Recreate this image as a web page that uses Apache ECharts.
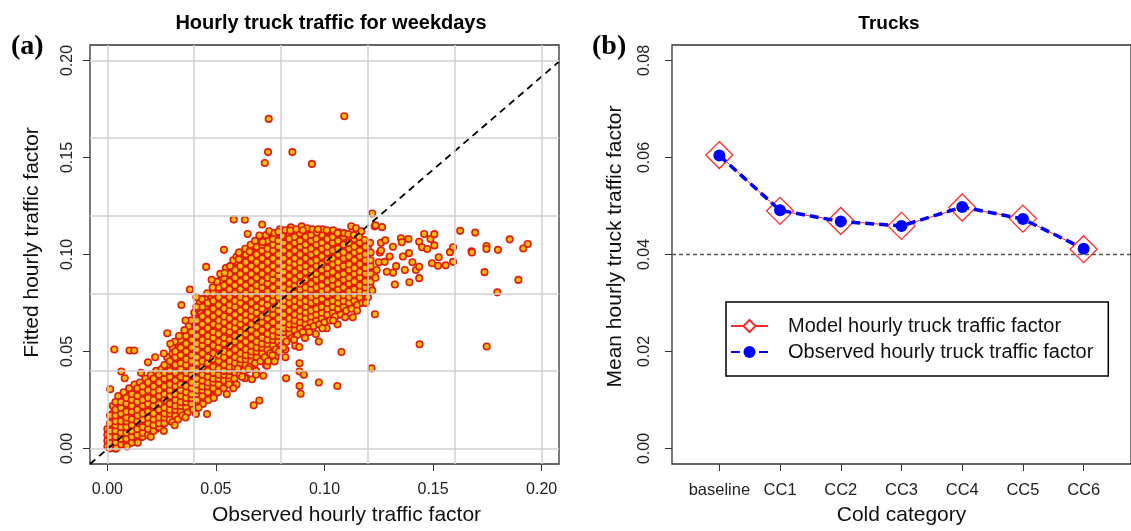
<!DOCTYPE html>
<html>
<head>
<meta charset="utf-8">
<title>Hourly truck traffic</title>
<script src="https://cdn.jsdelivr.net/npm/echarts@6/dist/echarts.min.js"></script>
<style>
  html, body { margin: 0; padding: 0; background: #fff; }
  #chart { width: 1131px; height: 531px; }
</style>
</head>
<body>
<div id="chart"></div>
<script>
// ---- panel (a): observed vs fitted hourly truck traffic factor ----
const xTicks = [0, 0.05, 0.1, 0.15, 0.2];
const yTicks = [0, 0.05, 0.1, 0.15, 0.2];
const gridVals = [0, 0.04, 0.08, 0.12, 0.16, 0.2];
const fitLine = [[-0.008, -0.008], [0.208, 0.1994]];

// dense part of the cloud, read column by column: [observed, [fitted...]]
const coreLow = [
  [0.000, [0.001, 0.004, 0.007, 0.010]],
  [0.0025, [0.002, 0.005, 0.008, 0.011, 0.015, 0.018, 0.022]],
  [0.005, [0.001, 0.004, 0.007, 0.010, 0.013, 0.016, 0.020, 0.023, 0.027]],
  [0.0075, [0.003, 0.006, 0.009, 0.012, 0.015, 0.018, 0.021, 0.025, 0.029]],
  [0.010, [0.004, 0.007, 0.010, 0.013, 0.017, 0.020, 0.023, 0.027, 0.031]],
  [0.0125, [0.005, 0.008, 0.012, 0.015, 0.018, 0.022, 0.025, 0.029, 0.033]],
  [0.015, [0.006, 0.009, 0.013, 0.016, 0.020, 0.023, 0.027, 0.030, 0.034]],
  [0.0175, [0.008, 0.011, 0.014, 0.018, 0.021, 0.025, 0.028, 0.032, 0.036]],
  [0.020, [0.009, 0.013, 0.016, 0.020, 0.023, 0.027, 0.030, 0.034, 0.038]],
  [0.0225, [0.010, 0.014, 0.018, 0.021, 0.025, 0.028, 0.032, 0.036, 0.040]],
  [0.025, [0.012, 0.015, 0.019, 0.023, 0.026, 0.030, 0.034, 0.037, 0.041]],
  [0.0275, [0.014, 0.017, 0.021, 0.024, 0.028, 0.032, 0.035, 0.039, 0.043, 0.047]],
  [0.030, [0.016, 0.019, 0.023, 0.026, 0.030, 0.034, 0.037, 0.041, 0.045, 0.049, 0.052]],
  [0.0325, [0.018, 0.021, 0.025, 0.029, 0.032, 0.036, 0.040, 0.043, 0.047, 0.051, 0.055]],
  [0.035, [0.020, 0.023, 0.027, 0.031, 0.034, 0.038, 0.042, 0.045, 0.049, 0.053, 0.057]],
  [0.0375, [0.022, 0.025, 0.029, 0.033, 0.036, 0.040, 0.044, 0.047, 0.051, 0.055, 0.059, 0.063]]
];
const coreMid = [
  [0.040, [0.024, 0.027, 0.031, 0.035, 0.038, 0.042, 0.046, 0.049, 0.053, 0.057, 0.061, 0.065, 0.070]],
  [0.0425, [0.026, 0.029, 0.033, 0.037, 0.040, 0.044, 0.048, 0.052, 0.055, 0.059, 0.063, 0.067, 0.071, 0.075]],
  [0.045, [0.028, 0.031, 0.035, 0.039, 0.042, 0.046, 0.050, 0.054, 0.057, 0.061, 0.065, 0.069, 0.073, 0.077]],
  [0.0475, [0.030, 0.033, 0.037, 0.041, 0.044, 0.048, 0.052, 0.056, 0.059, 0.063, 0.067, 0.071, 0.075, 0.079]],
  [0.050, [0.032, 0.036, 0.039, 0.043, 0.047, 0.050, 0.054, 0.058, 0.062, 0.065, 0.069, 0.073, 0.077, 0.081]],
  [0.0525, [0.034, 0.038, 0.041, 0.045, 0.049, 0.052, 0.056, 0.060, 0.064, 0.067, 0.071, 0.075, 0.079, 0.083, 0.087]],
  [0.055, [0.036, 0.040, 0.043, 0.047, 0.051, 0.055, 0.058, 0.062, 0.066, 0.070, 0.073, 0.077, 0.081, 0.085, 0.089]],
  [0.0575, [0.038, 0.042, 0.045, 0.049, 0.053, 0.057, 0.060, 0.064, 0.068, 0.072, 0.075, 0.079, 0.083, 0.087, 0.091, 0.094]],
  [0.060, [0.040, 0.044, 0.047, 0.051, 0.055, 0.059, 0.062, 0.066, 0.070, 0.074, 0.077, 0.081, 0.085, 0.089, 0.093, 0.096]],
  [0.0625, [0.042, 0.046, 0.049, 0.053, 0.057, 0.061, 0.064, 0.068, 0.072, 0.076, 0.079, 0.083, 0.087, 0.091, 0.095, 0.099]],
  [0.065, [0.044, 0.048, 0.051, 0.055, 0.059, 0.063, 0.066, 0.070, 0.074, 0.078, 0.081, 0.085, 0.089, 0.093, 0.097, 0.101]],
  [0.0675, [0.046, 0.050, 0.053, 0.057, 0.061, 0.065, 0.068, 0.072, 0.076, 0.080, 0.083, 0.087, 0.091, 0.095, 0.099, 0.103]],
  [0.070, [0.048, 0.052, 0.055, 0.059, 0.063, 0.067, 0.070, 0.074, 0.078, 0.082, 0.085, 0.089, 0.093, 0.097, 0.101, 0.105]],
  [0.0725, [0.050, 0.054, 0.057, 0.061, 0.065, 0.069, 0.072, 0.076, 0.080, 0.084, 0.087, 0.091, 0.095, 0.099, 0.103, 0.106]],
  [0.075, [0.052, 0.056, 0.059, 0.063, 0.067, 0.071, 0.074, 0.078, 0.082, 0.086, 0.089, 0.093, 0.097, 0.101, 0.104, 0.108]],
  [0.0775, [0.054, 0.058, 0.061, 0.065, 0.069, 0.073, 0.076, 0.080, 0.084, 0.088, 0.091, 0.095, 0.099, 0.103, 0.107]]
];
const coreHigh = [
  [0.080, [0.056, 0.060, 0.063, 0.067, 0.071, 0.075, 0.078, 0.082, 0.086, 0.090, 0.093, 0.097, 0.101, 0.105, 0.109]],
  [0.0825, [0.058, 0.062, 0.065, 0.069, 0.073, 0.077, 0.080, 0.084, 0.088, 0.092, 0.095, 0.099, 0.103, 0.107, 0.110]],
  [0.085, [0.060, 0.063, 0.067, 0.071, 0.075, 0.078, 0.082, 0.086, 0.090, 0.093, 0.097, 0.101, 0.105, 0.109]],
  [0.0875, [0.062, 0.065, 0.069, 0.073, 0.077, 0.080, 0.084, 0.088, 0.092, 0.095, 0.099, 0.103, 0.107, 0.110]],
  [0.090, [0.063, 0.067, 0.071, 0.074, 0.078, 0.082, 0.086, 0.089, 0.093, 0.097, 0.101, 0.104, 0.108]],
  [0.0925, [0.065, 0.069, 0.072, 0.076, 0.080, 0.084, 0.087, 0.091, 0.095, 0.099, 0.102, 0.106, 0.110]],
  [0.095, [0.066, 0.070, 0.074, 0.077, 0.081, 0.085, 0.089, 0.092, 0.096, 0.100, 0.104, 0.107]],
  [0.0975, [0.067, 0.071, 0.075, 0.079, 0.083, 0.086, 0.090, 0.094, 0.098, 0.101, 0.105, 0.109]],
  [0.100, [0.068, 0.072, 0.076, 0.080, 0.084, 0.087, 0.091, 0.095, 0.099, 0.102, 0.106, 0.110]],
  [0.1025, [0.070, 0.074, 0.078, 0.081, 0.085, 0.089, 0.093, 0.096, 0.100, 0.104, 0.108]],
  [0.105, [0.071, 0.075, 0.079, 0.083, 0.086, 0.090, 0.094, 0.098, 0.101, 0.105, 0.109]],
  [0.1075, [0.073, 0.077, 0.080, 0.084, 0.088, 0.092, 0.095, 0.099, 0.103, 0.107]],
  [0.110, [0.074, 0.078, 0.082, 0.086, 0.089, 0.093, 0.097, 0.101, 0.104, 0.108]],
  [0.1125, [0.076, 0.080, 0.083, 0.087, 0.091, 0.095, 0.098, 0.102, 0.106]],
  [0.115, [0.077, 0.081, 0.085, 0.089, 0.092, 0.096, 0.100, 0.103, 0.107]],
  [0.1175, [0.079, 0.083, 0.087, 0.090, 0.094, 0.098, 0.101, 0.105]],
  [0.120, [0.081, 0.085, 0.088, 0.092, 0.096, 0.099, 0.103]]
];

// second pass over the cloud, between the columns above
const coreFillLow = [
  [0.00125, [0.000, 0.003, 0.006, 0.009, 0.013, 0.017]],
  [0.00375, [0.000, 0.003, 0.006, 0.009, 0.012, 0.014, 0.017, 0.020, 0.024]],
  [0.00625, [0.002, 0.005, 0.008, 0.011, 0.014, 0.018, 0.021, 0.024]],
  [0.00875, [0.002, 0.005, 0.008, 0.011, 0.014, 0.016, 0.019, 0.023, 0.026]],
  [0.01125, [0.003, 0.006, 0.009, 0.012, 0.015, 0.019, 0.022, 0.025, 0.028]],
  [0.01375, [0.004, 0.007, 0.010, 0.014, 0.017, 0.020, 0.024, 0.027, 0.031]],
  [0.01625, [0.006, 0.008, 0.011, 0.015, 0.018, 0.022, 0.025, 0.029, 0.032]],
  [0.01875, [0.007, 0.010, 0.013, 0.016, 0.019, 0.023, 0.026, 0.030, 0.034]],
  [0.02125, [0.009, 0.012, 0.015, 0.018, 0.022, 0.025, 0.029, 0.032, 0.036]],
  [0.02375, [0.011, 0.013, 0.016, 0.020, 0.023, 0.027, 0.030, 0.034, 0.038]],
  [0.02625, [0.013, 0.016, 0.018, 0.021, 0.025, 0.028, 0.032, 0.036, 0.039, 0.043]],
  [0.02875, [0.015, 0.018, 0.020, 0.023, 0.027, 0.030, 0.033, 0.037, 0.040, 0.045]],
  [0.03125, [0.017, 0.020, 0.022, 0.025, 0.028, 0.032, 0.035, 0.039, 0.043, 0.047, 0.050]],
  [0.03375, [0.019, 0.022, 0.024, 0.027, 0.030, 0.033, 0.037, 0.041, 0.044, 0.048, 0.052, 0.056]],
  [0.03625, [0.021, 0.024, 0.026, 0.029, 0.032, 0.036, 0.039, 0.043, 0.046, 0.050, 0.054, 0.058]],
  [0.03875, [0.023, 0.026, 0.028, 0.031, 0.034, 0.038, 0.041, 0.045, 0.048, 0.052, 0.056, 0.060, 0.066]]
];
const coreFillMid = [
  [0.04125, [0.025, 0.028, 0.030, 0.033, 0.036, 0.040, 0.044, 0.047, 0.051, 0.054, 0.058, 0.062, 0.066, 0.072]],
  [0.04375, [0.027, 0.030, 0.032, 0.035, 0.038, 0.042, 0.045, 0.049, 0.053, 0.056, 0.060, 0.064, 0.068, 0.073]],
  [0.04625, [0.029, 0.032, 0.034, 0.037, 0.040, 0.044, 0.047, 0.051, 0.055, 0.058, 0.062, 0.066, 0.070, 0.075]],
  [0.04875, [0.031, 0.034, 0.036, 0.039, 0.042, 0.046, 0.049, 0.053, 0.057, 0.060, 0.064, 0.068, 0.072, 0.076, 0.080]],
  [0.05125, [0.033, 0.036, 0.038, 0.041, 0.045, 0.048, 0.052, 0.055, 0.059, 0.063, 0.066, 0.070, 0.074, 0.078, 0.083]],
  [0.05375, [0.035, 0.038, 0.040, 0.043, 0.047, 0.050, 0.054, 0.057, 0.061, 0.065, 0.068, 0.072, 0.076, 0.080, 0.084, 0.088]],
  [0.05625, [0.037, 0.040, 0.042, 0.045, 0.049, 0.053, 0.056, 0.060, 0.063, 0.067, 0.071, 0.074, 0.078, 0.082, 0.086, 0.090]],
  [0.05875, [0.039, 0.042, 0.044, 0.047, 0.051, 0.055, 0.058, 0.062, 0.065, 0.069, 0.073, 0.076, 0.080, 0.084, 0.088, 0.092]],
  [0.06125, [0.041, 0.044, 0.046, 0.049, 0.053, 0.057, 0.060, 0.064, 0.067, 0.071, 0.075, 0.078, 0.082, 0.086, 0.090, 0.094, 0.098]],
  [0.06375, [0.043, 0.046, 0.048, 0.051, 0.055, 0.059, 0.062, 0.066, 0.069, 0.073, 0.077, 0.080, 0.084, 0.088, 0.092, 0.096, 0.100]],
  [0.06625, [0.045, 0.048, 0.050, 0.053, 0.057, 0.061, 0.064, 0.068, 0.071, 0.075, 0.079, 0.082, 0.086, 0.090, 0.094, 0.098, 0.102]],
  [0.06875, [0.047, 0.050, 0.052, 0.055, 0.059, 0.063, 0.066, 0.070, 0.073, 0.077, 0.081, 0.084, 0.088, 0.092, 0.096, 0.100, 0.104]],
  [0.07125, [0.049, 0.052, 0.054, 0.057, 0.061, 0.065, 0.068, 0.072, 0.075, 0.079, 0.083, 0.086, 0.090, 0.094, 0.098, 0.102, 0.105]],
  [0.07375, [0.051, 0.054, 0.056, 0.059, 0.063, 0.067, 0.070, 0.074, 0.077, 0.081, 0.085, 0.088, 0.092, 0.096, 0.100, 0.103, 0.107]],
  [0.07625, [0.053, 0.056, 0.058, 0.061, 0.065, 0.069, 0.072, 0.076, 0.079, 0.083, 0.087, 0.090, 0.094, 0.098, 0.102, 0.105, 0.108]],
  [0.07875, [0.055, 0.058, 0.060, 0.063, 0.067, 0.071, 0.074, 0.078, 0.081, 0.085, 0.089, 0.092, 0.096, 0.100, 0.104, 0.107]]
];
const coreFillHigh = [
  [0.08125, [0.057, 0.060, 0.062, 0.065, 0.069, 0.073, 0.076, 0.080, 0.083, 0.087, 0.091, 0.094, 0.098, 0.102, 0.106, 0.109]],
  [0.08375, [0.059, 0.062, 0.064, 0.067, 0.071, 0.075, 0.078, 0.082, 0.085, 0.089, 0.093, 0.096, 0.100, 0.104, 0.108]],
  [0.08625, [0.061, 0.064, 0.066, 0.069, 0.073, 0.076, 0.080, 0.084, 0.087, 0.091, 0.095, 0.098, 0.102, 0.106, 0.109]],
  [0.08875, [0.062, 0.065, 0.068, 0.071, 0.075, 0.078, 0.082, 0.085, 0.089, 0.093, 0.096, 0.100, 0.104, 0.107, 0.111]],
  [0.09125, [0.064, 0.067, 0.070, 0.073, 0.076, 0.080, 0.083, 0.087, 0.091, 0.094, 0.098, 0.102, 0.105, 0.109]],
  [0.09375, [0.065, 0.068, 0.071, 0.075, 0.078, 0.082, 0.085, 0.089, 0.092, 0.096, 0.100, 0.103, 0.107, 0.110]],
  [0.09625, [0.066, 0.069, 0.072, 0.076, 0.079, 0.083, 0.087, 0.090, 0.094, 0.097, 0.101, 0.105, 0.108]],
  [0.09875, [0.067, 0.070, 0.073, 0.077, 0.081, 0.084, 0.088, 0.092, 0.095, 0.099, 0.103, 0.106, 0.110]],
  [0.10125, [0.069, 0.072, 0.075, 0.079, 0.082, 0.086, 0.090, 0.093, 0.097, 0.101, 0.104, 0.108]],
  [0.10375, [0.070, 0.073, 0.076, 0.080, 0.084, 0.087, 0.091, 0.095, 0.098, 0.102, 0.106, 0.109]],
  [0.10625, [0.072, 0.075, 0.078, 0.082, 0.085, 0.089, 0.093, 0.096, 0.100, 0.103, 0.107]],
  [0.10875, [0.073, 0.076, 0.079, 0.083, 0.087, 0.090, 0.094, 0.098, 0.101, 0.105, 0.109]],
  [0.11125, [0.075, 0.078, 0.081, 0.085, 0.088, 0.092, 0.095, 0.099, 0.103, 0.106]],
  [0.11375, [0.076, 0.079, 0.082, 0.086, 0.090, 0.093, 0.097, 0.101, 0.104, 0.108]],
  [0.11625, [0.078, 0.081, 0.084, 0.088, 0.091, 0.095, 0.099, 0.102, 0.106]],
  [0.11875, [0.080, 0.083, 0.086, 0.090, 0.093, 0.097, 0.100, 0.104]],
  [0.12125, [0.083, 0.086, 0.090, 0.094, 0.097, 0.101]]
];

// ragged upper and lower rims of the band
const upperRim = [
  [0.031, 0.055], [0.033, 0.058], [0.0355, 0.061], [0.0385, 0.066], [0.041, 0.073],
  [0.0435, 0.077], [0.046, 0.080], [0.0485, 0.083], [0.0505, 0.086], [0.052, 0.090],
  [0.0545, 0.093], [0.0565, 0.094], [0.058, 0.097], [0.0595, 0.099], [0.061, 0.101],
  [0.0635, 0.103], [0.066, 0.105], [0.068, 0.107], [0.0705, 0.109], [0.073, 0.110],
  [0.0745, 0.112], [0.077, 0.111], [0.0795, 0.113], [0.082, 0.1125], [0.0845, 0.114],
  [0.087, 0.113], [0.0895, 0.1145], [0.092, 0.1135], [0.0945, 0.113], [0.0965, 0.1115],
  [0.099, 0.113], [0.1015, 0.112], [0.104, 0.1125], [0.1065, 0.1115], [0.109, 0.111],
  [0.111, 0.1105], [0.1135, 0.110], [0.116, 0.109], [0.1185, 0.1075], [0.121, 0.106],
  [0.054, 0.0905], [0.0605, 0.0975], [0.0655, 0.1015], [0.0715, 0.1065], [0.0805, 0.1095]
];
const lowerRim = [
  [0.030, 0.0135], [0.0325, 0.015], [0.0345, 0.017], [0.037, 0.0185], [0.0395, 0.020],
  [0.0415, 0.0215], [0.044, 0.023], [0.0465, 0.025], [0.049, 0.027], [0.051, 0.029],
  [0.0535, 0.031], [0.056, 0.0345], [0.0585, 0.036], [0.061, 0.038], [0.063, 0.040],
  [0.0655, 0.042], [0.068, 0.044], [0.0705, 0.045], [0.0725, 0.047], [0.075, 0.049],
  [0.0775, 0.051], [0.080, 0.053], [0.0825, 0.055], [0.085, 0.057], [0.0875, 0.0585],
  [0.090, 0.060], [0.0925, 0.062], [0.095, 0.063], [0.0975, 0.064], [0.100, 0.065],
  [0.1025, 0.066], [0.105, 0.068], [0.1075, 0.069], [0.110, 0.071], [0.1125, 0.072],
  [0.115, 0.074], [0.1175, 0.075], [0.120, 0.078],
  [0.0595, 0.033], [0.064, 0.0365], [0.0685, 0.040], [0.073, 0.043], [0.0775, 0.047],
  [0.082, 0.051], [0.0865, 0.053], [0.091, 0.057], [0.096, 0.059], [0.101, 0.062], [0.106, 0.064]
];

// loose points around the edges of the cloud
const edgePoints = [
  [0.0032, 0.051], [0.0102, 0.0505], [0.0124, 0.0505], [0.0013, 0.0305], [0.0064, 0.0397],
  [0.008, 0.0362], [0.0187, 0.0444], [0.0155, 0.039], [0.022, 0.047], [0.026, 0.049],
  [0.0276, 0.0594], [0.029, 0.054], [0.0341, 0.074], [0.038, 0.0819], [0.036, 0.066],
  [0.041, 0.078], [0.0455, 0.0936], [0.048, 0.087], [0.0537, 0.1024], [0.0606, 0.101],
  [0.0582, 0.1181], [0.0633, 0.1179], [0.0646, 0.1106], [0.0713, 0.1155], [0.070, 0.1098],
  [0.0788, 0.1117], [0.0842, 0.1124], [0.090, 0.1125], [0.097, 0.113], [0.101, 0.1125],
  [0.106, 0.111], [0.1123, 0.1146], [0.1145, 0.1135], [0.117, 0.112], [0.122, 0.1211],
  [0.1231, 0.1145], [0.1265, 0.1141], [0.1235, 0.115],
  [0.004, 0.000], [0.009, 0.001], [0.014, 0.003], [0.020, 0.006], [0.026, 0.009],
  [0.031, 0.012], [0.036, 0.016], [0.0408, 0.0178], [0.0459, 0.0178], [0.042, 0.021],
  [0.049, 0.026], [0.0601, 0.0411], [0.0633, 0.0362], [0.0666, 0.0357], [0.0685, 0.038],
  [0.0718, 0.0375], [0.0735, 0.0427], [0.077, 0.0449], [0.0674, 0.0223], [0.070, 0.0247],
  [0.0823, 0.0362], [0.0884, 0.0523], [0.0885, 0.0439], [0.0885, 0.0397], [0.0905, 0.038],
  [0.0885, 0.0322], [0.089, 0.0282], [0.0974, 0.0551], [0.0974, 0.034], [0.1059, 0.0322],
  [0.1078, 0.0497], [0.1095, 0.0676], [0.113, 0.0676], [0.1217, 0.0413], [0.1232, 0.0692],
  [0.122, 0.0814], [0.056, 0.033], [0.062, 0.037], [0.076, 0.048], [0.081, 0.052],
  [0.086, 0.056], [0.093, 0.060], [0.099, 0.062], [0.104, 0.066], [0.115, 0.071],
  [0.119, 0.075], [0.055, 0.028], [0.058, 0.031], [0.065, 0.041], [0.074, 0.045],
  [0.079, 0.050], [0.082, 0.047]
];

// sparse tail to the right of the cloud
const tailPoints = [
  [0.1235, 0.088], [0.124, 0.092], [0.125, 0.096], [0.1255, 0.101], [0.126, 0.106],
  [0.1277, 0.0962], [0.126, 0.1021], [0.128, 0.1073], [0.1287, 0.0911], [0.1316, 0.0906],
  [0.1324, 0.0845], [0.130, 0.099], [0.1315, 0.104], [0.133, 0.094], [0.1352, 0.1084],
  [0.1356, 0.1063], [0.1361, 0.099], [0.1389, 0.1007], [0.1387, 0.108], [0.1391, 0.0857],
  [0.137, 0.092], [0.1405, 0.096], [0.1421, 0.092], [0.1436, 0.0878], [0.1436, 0.0937],
  [0.1436, 0.1066], [0.1449, 0.1037], [0.1459, 0.1106], [0.1473, 0.1028], [0.1488, 0.108],
  [0.1495, 0.0955], [0.1506, 0.1105], [0.1506, 0.1047], [0.1523, 0.0942], [0.1526, 0.0986],
  [0.1558, 0.0944], [0.1578, 0.1012], [0.1592, 0.1037], [0.1592, 0.0962], [0.1625, 0.1122],
  [0.1677, 0.1017], [0.1679, 0.101], [0.1694, 0.1113], [0.1737, 0.0909], [0.1746, 0.1044],
  [0.1746, 0.1028], [0.1799, 0.1024], [0.1853, 0.1078], [0.1893, 0.0869], [0.1915, 0.1031],
  [0.1936, 0.1054], [0.1796, 0.0805], [0.1747, 0.0526], [0.1438, 0.0537]
];

const highOutliers = [
  [0.0743, 0.1699], [0.1091, 0.1713], [0.074, 0.1528], [0.0852, 0.1528], [0.0725, 0.1472], [0.0942, 0.1467]
];

// ---- panel (b): mean hourly truck traffic factor by cold category ----
const categories = ['baseline', 'CC1', 'CC2', 'CC3', 'CC4', 'CC5', 'CC6'];
const modelVals = [0.0605, 0.0490, 0.0469, 0.0459, 0.0497, 0.0474, 0.0411];
const observedVals = [0.0604, 0.0491, 0.0468, 0.0459, 0.0498, 0.0473, 0.0412];
const refLevel = 0.04;
const rightYTicks = [0, 0.02, 0.04, 0.06, 0.08];
const catPositions = [1, 2, 3, 4, 5, 6, 7];

const FONT = '"Liberation Sans", Arial, sans-serif';

const scatterData = []
  .concat(coreLow, coreMid, coreHigh, coreFillLow, coreFillMid, coreFillHigh)
  .flatMap(([x, ys]) => ys.map((y) => [x, y]))
  .concat(upperRim, lowerRim, edgePoints, tailPoints, highOutliers);

const chart = echarts.init(document.getElementById('chart'), null, { renderer: 'canvas' });

const axisBase = {
  axisLine: { show: false, onZero: false },
  splitLine: { show: false },
  axisTick: { show: true, inside: false, length: 7, lineStyle: { color: '#333', width: 1 } },
  nameLocation: 'middle',
  nameTextStyle: { fontFamily: FONT, fontSize: 21, color: '#111' }
};

const option = {
  animation: false,
  backgroundColor: '#fff',
  textStyle: { fontFamily: FONT },
  title: [
    { text: 'Hourly truck traffic for weekdays', left: 326, top: 8, textAlign: 'center',
      textStyle: { fontFamily: FONT, fontSize: 20, fontWeight: 'bold', color: '#000' } },
    { text: 'Trucks', left: 884, top: 9, textAlign: 'center',
      textStyle: { fontFamily: FONT, fontSize: 19, fontWeight: 'bold', color: '#000' } },
    { text: '(a)', left: 6, top: 28,
      textStyle: { fontFamily: '"Liberation Serif", "Times New Roman", serif', fontSize: 28, fontWeight: 'bold', color: '#000' } },
    { text: '(b)', left: 587, top: 28,
      textStyle: { fontFamily: '"Liberation Serif", "Times New Roman", serif', fontSize: 28, fontWeight: 'bold', color: '#000' } }
  ],
  legend: {
    data: ['Model hourly truck traffic factor', 'Observed hourly truck traffic factor'],
    orient: 'vertical',
    left: 726,
    top: 302,
    padding: [14, 15, 14, 4],
    itemGap: 6,
    itemWidth: 37,
    itemHeight: 15,
    borderColor: '#000',
    borderWidth: 1.5,
    textStyle: { fontFamily: FONT, fontSize: 20, color: '#111', padding: [0, 0, 0, 15] }
  },
  grid: [
    { left: 90, top: 45, width: 469, height: 420, show: true, borderColor: '#333', borderWidth: 1.3, backgroundColor: 'transparent' },
    { left: 672, top: 45, width: 469, height: 420, show: true, borderColor: '#333', borderWidth: 1.3, backgroundColor: 'transparent' }
  ],
  xAxis: [
    Object.assign({}, axisBase, {
      gridIndex: 0, type: 'value', min: -0.008, max: 0.208,
      axisTick: Object.assign({}, axisBase.axisTick, { customValues: xTicks }),
      axisLabel: { customValues: xTicks, formatter: (v) => v.toFixed(2), fontSize: 16, color: '#222', margin: 18 },
      name: 'Observed hourly traffic factor', nameGap: 41,
      nameTextStyle: Object.assign({}, axisBase.nameTextStyle, { padding: [0, 0, 0, 44] })
    }),
    Object.assign({}, axisBase, {
      gridIndex: 1, type: 'value', min: 0.22, max: 7.78,
      axisTick: Object.assign({}, axisBase.axisTick, { customValues: catPositions }),
      axisLabel: { customValues: catPositions, formatter: (v) => categories[Math.round(v) - 1], fontSize: 16.5, color: '#222', margin: 18 },
      name: 'Cold category', nameGap: 41
    })
  ],
  yAxis: [
    Object.assign({}, axisBase, {
      gridIndex: 0, type: 'value', min: -0.008, max: 0.208,
      axisTick: Object.assign({}, axisBase.axisTick, { customValues: yTicks }),
      axisLabel: { customValues: yTicks, formatter: (v) => v.toFixed(2), rotate: 90, fontSize: 16, color: '#222', margin: 14 },
      name: 'Fitted hourly traffic factor', nameGap: 47,
      nameTextStyle: Object.assign({}, axisBase.nameTextStyle, { padding: [0, 0, 0, 24] })
    }),
    Object.assign({}, axisBase, {
      gridIndex: 1, type: 'value', min: -0.0032, max: 0.0832,
      axisTick: Object.assign({}, axisBase.axisTick, { customValues: rightYTicks }),
      axisLabel: { customValues: rightYTicks, formatter: (v) => v.toFixed(2), rotate: 90, fontSize: 16, color: '#222', margin: 19 },
      name: 'Mean hourly truck traffic factor', nameGap: 46,
      nameTextStyle: Object.assign({}, axisBase.nameTextStyle, { padding: [0, 0, 0, 16] })
    })
  ],
  series: [
    {
      // light grey reference grid
      type: 'line', xAxisIndex: 0, yAxisIndex: 0, data: [], z: 1, silent: true,
      markLine: {
        silent: true, symbol: 'none', label: { show: false }, animation: false,
        lineStyle: { color: '#d0d0d0', width: 1.5, type: 'solid' },
        data: gridVals.map((v) => ({ xAxis: v })).concat(gridVals.map((v) => ({ yAxis: v })))
      }
    },
    {
      type: 'scatter', xAxisIndex: 0, yAxisIndex: 0, z: 2, silent: true,
      symbol: 'circle', symbolSize: 6.5,
      itemStyle: { color: '#ffbc00', borderColor: '#e01c0a', borderWidth: 1.6, opacity: 1 },
      data: scatterData
    },
    {
      type: 'line', xAxisIndex: 0, yAxisIndex: 0, z: 3, silent: true,
      symbol: 'none', data: fitLine,
      lineStyle: { color: '#000', width: 1.8, type: [7, 5] }
    },
    {
      type: 'line', xAxisIndex: 1, yAxisIndex: 1, data: [], z: 1, silent: true,
      markLine: {
        silent: true, symbol: 'none', label: { show: false }, animation: false,
        lineStyle: { color: '#555', width: 1.3, type: [4, 3] },
        data: [{ yAxis: refLevel }]
      }
    },
    {
      name: 'Model hourly truck traffic factor',
      type: 'line', xAxisIndex: 1, yAxisIndex: 1, z: 3,
      data: catPositions.map((p, i) => [p, modelVals[i]]),
      symbol: 'diamond', symbolSize: 27,
      lineStyle: { color: '#ff2a2a', width: 1 },
      itemStyle: { color: '#fff', borderColor: '#ff2a2a', borderWidth: 1.3 }
    },
    {
      name: 'Observed hourly truck traffic factor',
      type: 'line', xAxisIndex: 1, yAxisIndex: 1, z: 4,
      data: catPositions.map((p, i) => [p, observedVals[i]]),
      symbol: 'circle', symbolSize: 12,
      lineStyle: { color: '#0000ff', width: 3.5, type: [9, 5] },
      itemStyle: { color: '#0000ff', borderWidth: 0 }
    }
  ]
};

chart.setOption(option);
</script>
</body>
</html>
